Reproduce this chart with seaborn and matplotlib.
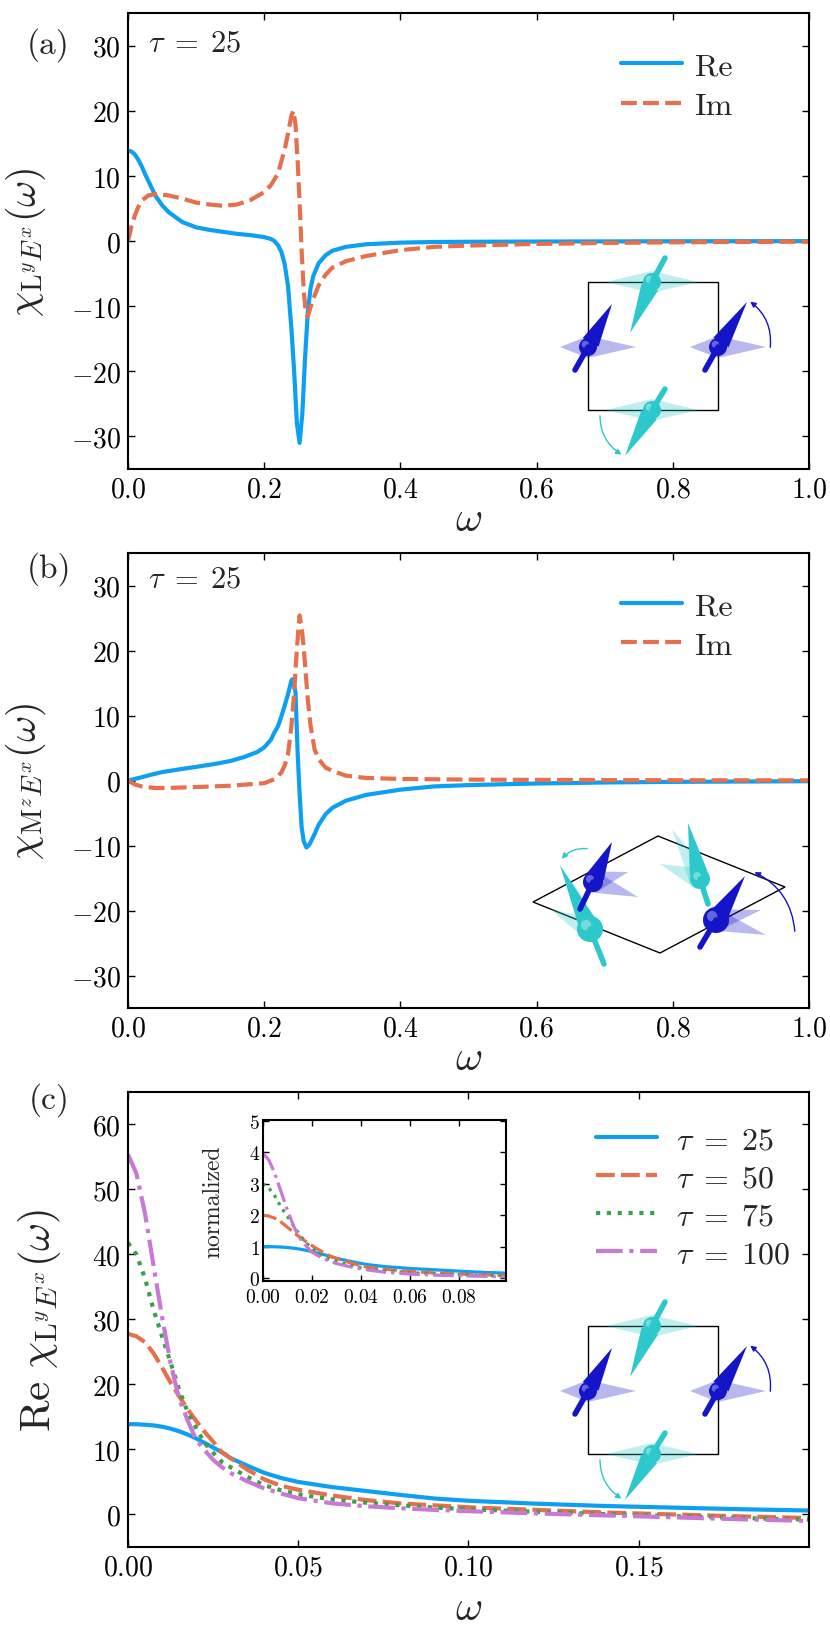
import numpy as np
import pandas as pd
import matplotlib
matplotlib.use('Agg')
import matplotlib.pyplot as plt
import seaborn as sns
from matplotlib.patches import Circle, Polygon, Rectangle, FancyArrowPatch

# ---- panel (a): chi_{L^y E^x}, tau = 25 ----
w_a_re = [0, 0.005, 0.01, 0.015, 0.02, 0.025, 0.03, 0.035, 0.04, 0.05, 0.06, 0.08, 0.10,
          0.12, 0.14, 0.16, 0.18, 0.20, 0.21, 0.215, 0.22, 0.225, 0.23, 0.235, 0.24,
          0.244, 0.248, 0.252, 0.256, 0.26, 0.264, 0.268, 0.272, 0.28, 0.29, 0.30, 0.32,
          0.35, 0.40, 0.45, 0.5, 0.6, 0.7, 0.8, 0.9, 1.0]
a_re = [13.9, 13.75, 13.3, 12.5, 11.5, 10.3, 9.2, 8.1, 7.0, 5.5, 4.4, 2.9, 2.1,
        1.7, 1.4, 1.1, 0.9, 0.6, 0.3, 0.0, -0.6, -1.6, -3.5, -6.9, -13.5,
        -20.0, -28.0, -31.0, -26.5, -18.0, -11.0, -7.3, -5.4, -3.4, -2.2, -1.5, -0.9,
        -0.5, -0.25, -0.15, -0.12, -0.08, -0.06, -0.04, -0.03, -0.02]
w_a_im = [0, 0.005, 0.01, 0.015, 0.02, 0.03, 0.04, 0.05, 0.06, 0.08, 0.10, 0.12, 0.14,
          0.16, 0.18, 0.20, 0.21, 0.22, 0.23, 0.235, 0.24, 0.243, 0.246, 0.249, 0.252,
          0.255, 0.258, 0.261, 0.264, 0.268, 0.272, 0.28, 0.29, 0.30, 0.32, 0.35, 0.40,
          0.45, 0.5, 0.6, 0.7, 0.8, 0.9, 1.0]
a_im = [0, 2.2, 3.9, 5.2, 6.2, 7.0, 7.2, 7.1, 7.0, 6.5, 5.9, 5.6, 5.4,
        5.6, 6.3, 7.5, 8.6, 10.3, 14.0, 16.5, 19.3, 20.0, 17.8, 12.5, 6.0,
        -1.5, -7.5, -11.0, -11.6, -10.2, -8.9, -6.8, -5.2, -4.1, -3.1, -2.3, -1.4,
        -0.9, -0.7, -0.45, -0.3, -0.2, -0.15, -0.1]

# ---- panel (b): chi_{M^z E^x}, tau = 25 ----
w_b_re = [0, 0.01, 0.02, 0.03, 0.05, 0.08, 0.10, 0.13, 0.15, 0.17, 0.19, 0.20, 0.21,
          0.215, 0.22, 0.225, 0.23, 0.235, 0.24, 0.242, 0.246, 0.249, 0.252, 0.255,
          0.258, 0.262, 0.266, 0.27, 0.275, 0.28, 0.29, 0.30, 0.32, 0.35, 0.40, 0.45,
          0.5, 0.6, 0.7, 0.8, 0.9, 1.0]
b_re = [0, 0.25, 0.5, 0.8, 1.3, 1.8, 2.1, 2.6, 3.0, 3.6, 4.4, 5.1, 6.3,
        7.4, 8.3, 9.8, 11.5, 13.3, 15.4, 15.6, 13.6, 4.5, -2.0, -7.2,
        -9.3, -10.3, -9.9, -9.1, -8.0, -6.8, -5.2, -4.2, -3.1, -2.2, -1.4, -0.9,
        -0.7, -0.45, -0.3, -0.2, -0.15, -0.1]
w_b_im = [0, 0.01, 0.02, 0.04, 0.07, 0.10, 0.15, 0.20, 0.215, 0.225, 0.23, 0.235, 0.24,
          0.244, 0.247, 0.25, 0.252, 0.255, 0.258, 0.261, 0.264, 0.268, 0.274, 0.28,
          0.29, 0.30, 0.32, 0.35, 0.40, 0.5, 0.6, 0.8, 1.0]
b_im = [0, -0.6, -0.9, -1.15, -1.1, -1.0, -0.8, -0.4, 0.2, 1.2, 2.3, 4.0, 8.4,
        13.5, 18.7, 23.0, 25.4, 23.5, 20.5, 16.5, 12.5, 8.5, 4.8, 3.3,
        2.0, 1.5, 0.75, 0.4, 0.25, 0.15, 0.1, 0.05, 0.03]

# ---- panel (c): Re chi_{L^y E^x} for several tau ----
w_c = [0, 0.0025, 0.005, 0.0075, 0.01, 0.0125, 0.015, 0.0175, 0.02, 0.0225, 0.025,
       0.0275, 0.03, 0.035, 0.04, 0.045, 0.05, 0.06, 0.07, 0.08, 0.09, 0.10, 0.12,
       0.14, 0.16, 0.18, 0.20]
c_tau25 = [13.9, 13.88, 13.8, 13.7, 13.5, 13.2, 12.8, 12.3, 11.7, 11.0, 10.3,
           9.6, 8.7, 7.5, 6.4, 5.6, 5.0, 4.2, 3.6, 3.0, 2.45, 2.1, 1.65,
           1.3, 1.05, 0.8, 0.6]
c_tau50 = [27.8, 27.4, 26.5, 24.8, 22.6, 20.3, 18.2, 16.2, 14.4, 12.7, 11.2,
           9.6, 8.7, 6.9, 5.4, 4.4, 3.8, 2.9, 2.2, 1.7, 1.4, 1.1, 0.7,
           0.3, 0.0, -0.3, -0.55]
c_tau75 = [41.8, 40.0, 36.3, 31.5, 27.4, 23.4, 19.2, 15.8, 13.3, 11.0, 9.5,
           8.1, 7.3, 5.8, 4.5, 3.7, 3.1, 2.3, 1.8, 1.4, 1.05, 0.8, 0.4,
           0.05, -0.25, -0.55, -0.8]
c_tau100 = [55.4, 52.4, 46.3, 38.3, 30.4, 23.3, 17.8, 14.5, 11.5, 9.9, 8.4,
            7.3, 6.4, 5.1, 4.0, 3.2, 2.5, 1.7, 1.25, 0.95, 0.7, 0.5, 0.15,
            -0.15, -0.45, -0.75, -1.0]
tau_labels = [r'$\tau\;=\;25$', r'$\tau\;=\;50$', r'$\tau\;=\;75$', r'$\tau\;=\;100$']

blue = '#0c9ff2'
orange = '#e5704b'
green = '#3aa14a'
purple = '#c978d6'

sns.set_style('ticks')
plt.rcParams.update({
    'font.family': 'serif',
    'font.serif': ['cmr10', 'DejaVu Serif'],
    'mathtext.fontset': 'cm',
    'axes.formatter.use_mathtext': True,
    'axes.unicode_minus': True,
})

fig = plt.figure(figsize=(8.3, 16.33), dpi=100)
ax_a = fig.add_axes([0.1542, 0.7122, 0.8205, 0.2792])
ax_b = fig.add_axes([0.1542, 0.3821, 0.8205, 0.2786])
ax_c = fig.add_axes([0.1542, 0.0521, 0.8205, 0.2786])


def style(ax, size=20, pad=5, length=5):
    ax.tick_params(direction='in', top=True, right=True, length=length, width=1,
                   labelsize=size, pad=pad, colors='black')
    for s in ax.spines.values():
        s.set_linewidth(1.5)
        s.set_color('black')


def draw(ax, x, y, color, ls, lw, label):
    sns.lineplot(x=x, y=y, ax=ax, color=color, linewidth=lw, label=label,
                 estimator=None, sort=False)
    line = ax.get_lines()[-1]
    if ls is not None:
        line.set_dashes(ls)
    return line


# panel (a)
draw(ax_a, w_a_re, a_re, blue, None, 3, 'Re')
draw(ax_a, w_a_im, a_im, orange, (3.8, 1.5), 3, 'Im')
# panel (b)
draw(ax_b, w_b_re, b_re, blue, None, 3, 'Re')
draw(ax_b, w_b_im, b_im, orange, (3.8, 1.5), 3, 'Im')

for ax, lab, ty in [(ax_a, r'$\chi_{\mathrm{L}^y E^x}(\omega)$', 0.934),
                    (ax_b, r'$\chi_{\mathrm{M}^z E^x}(\omega)$', 0.943)]:
    ax.set_xlim(0, 1)
    ax.set_ylim(-35, 35)
    ax.set_xticks([0, 0.2, 0.4, 0.6, 0.8, 1.0])
    ax.set_yticks([-30, -20, -10, 0, 10, 20, 30])
    style(ax)
    ax.set_xlabel(r'$\omega$', fontsize=30, va='center')
    ax.xaxis.set_label_coords(0.5, -0.11)
    ax.set_ylabel(lab, fontsize=29)
    ax.yaxis.set_label_coords(-0.118, 0.5)
    ax.text(0.098, ty, r'$\tau\;=\;25$', transform=ax.transAxes, fontsize=22,
            ha='center', va='center')
    ax.legend(loc='upper left', bbox_to_anchor=(0.724, 0.915), frameon=False,
              fontsize=23, handlelength=1.9, handletextpad=0.4, labelspacing=0.35,
              borderpad=0, borderaxespad=0)

# panel (c)
series_c = [c_tau25, c_tau50, c_tau75, c_tau100]
colors_c = [blue, orange, green, purple]
dashes_c = [None, (4.5, 1.5), (1, 1.6), (6.4, 1.6, 1, 1.6)]
for vals, col, ds, lab in zip(series_c, colors_c, dashes_c, tau_labels):
    draw(ax_c, w_c, vals, col, ds, 3, lab)
ax_c.set_xlim(0, 0.2)
ax_c.set_ylim(-5, 65)
ax_c.set_xticks([0, 0.05, 0.10, 0.15])
ax_c.set_yticks([0, 10, 20, 30, 40, 50, 60])
style(ax_c)
ax_c.set_xlabel(r'$\omega$', fontsize=30, va='center')
ax_c.xaxis.set_label_coords(0.5, -0.135)
ax_c.set_ylabel(r'$\mathrm{Re}\ \chi_{\mathrm{L}^y E^x}(\omega)$', fontsize=31)
ax_c.yaxis.set_label_coords(-0.095, 0.5)
ax_c.legend(loc='upper left', bbox_to_anchor=(0.687, 0.925), frameon=False,
            fontsize=23, handlelength=1.9, handletextpad=0.6, labelspacing=0.3,
            borderpad=0, borderaxespad=0)

# inset of (c): curves normalized by the tau=25 static value
norm0 = c_tau25[0]
axin = fig.add_axes([0.3163, 0.2149, 0.2934, 0.0989])
for vals, col, ds, lab in zip(series_c, colors_c, dashes_c, tau_labels):
    draw(axin, w_c, [v / norm0 for v in vals], col, ds, 2.3, None)
axin.set_xlim(0, 0.099)
axin.set_ylim(-0.1, 5.05)
axin.set_xticks([0, 0.02, 0.04, 0.06, 0.08])
axin.set_yticks([0, 1, 2, 3, 4, 5])
style(axin, size=14, pad=2, length=4)
axin.tick_params(axis='x', pad=5)
axin.set_ylabel('normalized', fontsize=17)
axin.yaxis.set_label_coords(-0.155, 0.5)
if axin.get_legend() is not None:
    axin.get_legend().remove()

# panel labels
for txt, (px, py) in [('(a)', (48, 45)), ('(b)', (49, 569)), ('(c)', (49, 1100))]:
    fig.text(px / 830, 1 - py / 1633, txt, fontsize=24, ha='center', va='center')

# ---- schematic spin sketches (overlay in pixel coordinates) ----
ill = fig.add_axes([0, 0, 1, 1], zorder=10)
ill.set_xlim(0, 830)
ill.set_ylim(1633, 0)
ill.axis('off')

dark_blue = '#1414c8'
cyan = '#2cc8cc'


def spin(c, tip, tail, color, ghosts, r):
    c = np.array(c, float)
    tip = np.array(tip, float)
    for g in ghosts:
        g = np.array(g, float)
        d = g - c
        u = d / np.hypot(*d)
        n = np.array([-u[1], u[0]])
        ill.add_patch(Polygon([c + n * 11, g, c - n * 11], color=color, alpha=0.3, lw=0))
    ill.plot([c[0], tail[0]], [c[1], tail[1]], color=color, lw=4, solid_capstyle='round')
    d = tip - c
    u = d / np.hypot(*d)
    n = np.array([-u[1], u[0]])
    base = c + u * r * 0.6
    ill.add_patch(Polygon([base + n * 9, tip, base - n * 9], color=color, lw=0))
    ill.add_patch(Circle(c, r, color=color, lw=0))
    ill.add_patch(Circle(c - np.array([r, r]) * 0.3, r * 0.4, color='white', alpha=0.35, lw=0))


def square_sketch(bx, by):
    ill.add_patch(Rectangle((bx, by), 130, 128, fill=False, ec='black', lw=1))
    p = lambda x, y: (bx + x, by + y)
    spin(p(64, 0), p(42, 51), p(77, -24), cyan, [p(18, 0), p(110, 0)], 9)
    spin(p(0, 65), p(24, 22), p(-13, 88), dark_blue, [p(48, 65), p(-28, 65)], 9)
    spin(p(130, 65), p(159, 20), p(117, 88), dark_blue, [p(178, 65), p(102, 65)], 9)
    spin(p(64, 128), p(37, 174), p(77, 107), cyan, [p(18, 128), p(110, 128)], 9)
    ill.add_patch(FancyArrowPatch(p(182, 68), p(160, 18), connectionstyle='arc3,rad=0.3',
                                  arrowstyle='-|>', mutation_scale=8, color=dark_blue, lw=1))
    ill.add_patch(FancyArrowPatch(p(12, 131), p(36, 174), connectionstyle='arc3,rad=0.3',
                                  arrowstyle='-|>', mutation_scale=8, color=cyan, lw=1))


square_sketch(588, 283)
square_sketch(588, 1327)

# panel (b) sketch: rhombic cell
ill.add_patch(Polygon([(533, 903), (660, 954), (785, 888), (658, 837)], closed=True,
                      fill=False, ec='black', lw=1))
spin((593, 883), (612, 843), (580, 910), dark_blue, [(638, 898), (628, 873)], 10)
spin((590, 930), (560, 866), (604, 965), cyan, [(550, 910), (570, 880)], 13)
spin((700, 880), (688, 824), (708, 905), cyan, [(660, 865), (672, 830)], 10)
spin((716, 921), (745, 877), (700, 948), dark_blue, [(766, 936), (761, 911)], 13)
ill.add_patch(FancyArrowPatch((795, 935), (752, 872), connectionstyle='arc3,rad=0.3',
                              arrowstyle='-|>', mutation_scale=8, color=dark_blue, lw=1))
ill.add_patch(FancyArrowPatch((590, 850), (560, 862), connectionstyle='arc3,rad=0.3',
                              arrowstyle='-|>', mutation_scale=8, color=cyan, lw=1))

fig.savefig('out.png', dpi=100)
